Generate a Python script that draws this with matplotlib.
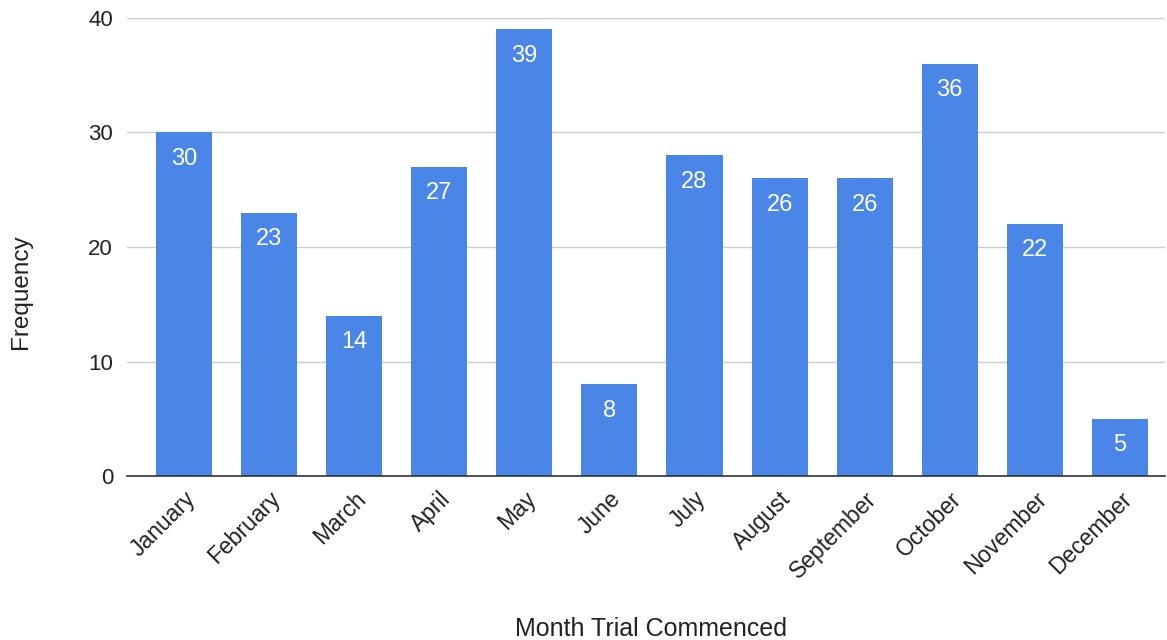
import matplotlib
matplotlib.use("Agg")
import matplotlib.pyplot as plt

months = ["January", "February", "March", "April", "May", "June", "July",
          "August", "September", "October", "November", "December"]
frequency = [30, 23, 14, 27, 39, 8, 28, 26, 26, 36, 22, 5]
yticks = [0, 10, 20, 30, 40]

plt.rcParams['font.family'] = ['Liberation Sans', 'DejaVu Sans']

fig = plt.figure(figsize=(11.67, 6.4), dpi=100)
ax = fig.add_axes([127/1167, 1-476/640, (1165-127)/1167, (476-18)/640])

x = list(range(len(months)))
bars = ax.bar(x, frequency, width=0.66, color="#4a86e8", zorder=3)
for xi, v in zip(x, frequency):
    ax.annotate(str(v), (xi, v), xytext=(0, -11), textcoords="offset points",
                ha="center", va="top", color="white", fontsize=17, zorder=4)

ax.set_ylim(0, 40)
ax.set_xlim(-0.67, 11.53)
ax.set_yticks(yticks)
ax.set_xticks(x)
ax.set_xticklabels(months, rotation=45, ha="right", rotation_mode="anchor", fontsize=16.5)
ax.tick_params(axis="y", labelsize=16, length=0, pad=10, labelcolor="#222222")
ax.tick_params(axis="x", length=0, pad=8, labelcolor="#222222")
ax.grid(axis="y", color="#cccccc", linewidth=1, zorder=0)
for s in ["top", "right", "left"]:
    ax.spines[s].set_visible(False)
ax.spines["bottom"].set_color("#333333")
ax.spines["bottom"].set_linewidth(1.2)
ax.spines["bottom"].set_zorder(5)

fig.text(21/1167, 1-292/640, "Frequency", rotation=90, ha="center", va="center",
         fontsize=17.5, color="#222222")
fig.text(651/1167, 1-629/640, "Month Trial Commenced", ha="center", va="center",
         fontsize=18, color="#222222")

fig.savefig("out.png", dpi=100)
